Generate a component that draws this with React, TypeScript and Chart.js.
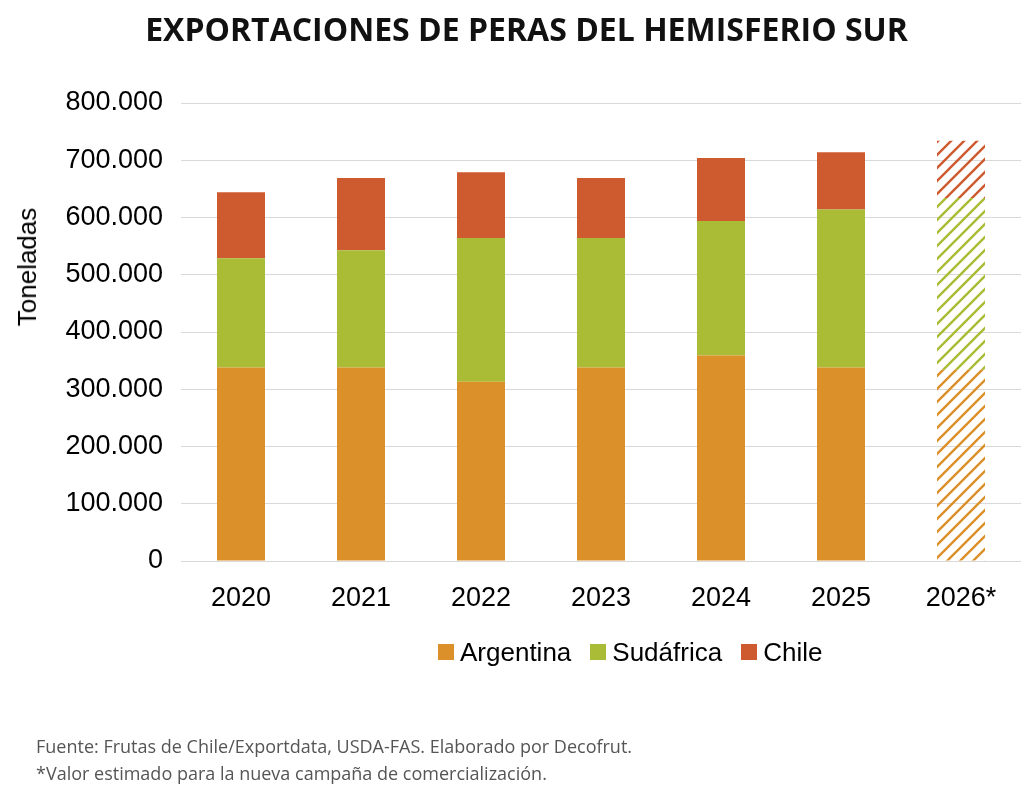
import { useEffect, useRef } from 'react';
import { Chart, registerables } from 'chart.js';

Chart.register(...registerables);

// ─── Data ─────────────────────────────────────────────────────────────────────

const YEARS     = ['2020', '2021', '2022', '2023', '2024', '2025', '2026*'];
const ARGENTINA = [338000, 338000, 313000, 338000, 359000, 338000, 334000];
const SUDAFRICA = [191000, 205000, 251000, 226000, 235000, 276000, 300000];
const CHILE     = [115000, 126000, 115000, 105000, 110000, 100000, 100000];
const ESTIMATED = ['2026*'];

const SERIES = [
  { label: 'Argentina', data: ARGENTINA, color: '#DC902A' },
  { label: 'Sudáfrica', data: SUDAFRICA, color: '#AABC35' },
  { label: 'Chile',     data: CHILE,     color: '#CE5A2F' },
];

const TITLE   = 'EXPORTACIONES DE PERAS DEL HEMISFERIO SUR';
const Y_TITLE = 'Toneladas';
const NOTES = [
  'Fuente: Frutas de Chile/Exportdata, USDA-FAS. Elaborado por Decofrut.',
  '*Valor estimado para la nueva campaña de comercialización.',
];

const ARIAL = '"Liberation Sans", Arial, sans-serif';
const OPEN  = '"Open Sans", "Noto Sans", sans-serif';

// diagonal hatch used for the estimated year
function hatch(color: string): CanvasPattern | string {
  const s = 13;
  const c = document.createElement('canvas');
  c.width = s; c.height = s;
  const ctx = c.getContext('2d');
  if (!ctx) return color;
  ctx.strokeStyle = color;
  ctx.lineWidth = 2.4;
  ctx.lineCap = 'square';
  ctx.beginPath();
  ctx.moveTo(0, s); ctx.lineTo(s, 0);
  ctx.moveTo(-2, 2); ctx.lineTo(2, -2);
  ctx.moveTo(s - 2, s + 2); ctx.lineTo(s + 2, s - 2);
  ctx.stroke();
  return ctx.createPattern(c, 'repeat') ?? color;
}

const fmt = (v: number) => String(v).replace(/\B(?=(\d{3})+(?!\d))/g, '.');

// ─── Chart ────────────────────────────────────────────────────────────────────

function PerasChart() {
  const canvasRef = useRef<HTMLCanvasElement>(null);
  const chartRef  = useRef<Chart | null>(null);

  useEffect(() => {
    if (!canvasRef.current) return;
    const existing = Chart.getChart(canvasRef.current);
    if (existing) existing.destroy();
    chartRef.current?.destroy();

    chartRef.current = new Chart(canvasRef.current, {
      type: 'bar',
      data: {
        labels: YEARS,
        datasets: SERIES.map(s => {
          const pat = hatch(s.color);
          return {
            label: s.label,
            data: s.data,
            backgroundColor: YEARS.map(y => (ESTIMATED.includes(y) ? pat : s.color)),
            borderWidth: 0,
            barPercentage: 0.4,
            categoryPercentage: 1,
          };
        }),
      },
      options: {
        animation: false,
        responsive: true,
        maintainAspectRatio: false,
        layout: { padding: { top: 103, right: 3, bottom: 168, left: 0 } },
        plugins: {
          legend: { display: false },
          tooltip: { enabled: false },
        },
        scales: {
          x: {
            stacked: true,
            grid: { display: false, drawTicks: false },
            border: { display: false },
            ticks: { color: '#000', padding: 21, font: { family: ARIAL, size: 27 } },
            afterFit: (s: any) => { s.height = 60; },
          },
          y: {
            stacked: true,
            min: 0,
            max: 800000,
            grid: { color: '#D9D9D9', lineWidth: 1, drawTicks: false },
            border: { display: false },
            ticks: {
              stepSize: 100000,
              color: '#000',
              padding: 18,
              font: { family: ARIAL, size: 27 },
              callback: (v: any) => fmt(Number(v)),
            },
            afterFit: (s: any) => { s.width = 181; },
          },
        },
      },
    });

    return () => { chartRef.current?.destroy(); chartRef.current = null; };
  }, []);

  return <canvas ref={canvasRef} />;
}

export default function App() {
  return (
    <div style={{ position: 'absolute', left: 0, top: 0, width: 1024, height: 789, background: '#fff', overflow: 'hidden' }}>
      <div style={{ position: 'absolute', inset: 0 }}>
        <PerasChart />
      </div>
      <div style={{
        position: 'absolute', left: 0, width: 1053, top: 9, textAlign: 'center',
        fontFamily: OPEN, fontWeight: 700, fontSize: 32, lineHeight: '40px', color: '#111', whiteSpace: 'nowrap',
      }}>{TITLE}</div>
      <div style={{
        position: 'absolute', left: 27, top: 267, transform: 'translate(-50%, -50%) rotate(-90deg)',
        fontFamily: ARIAL, fontSize: 26, lineHeight: '30px', color: '#000', whiteSpace: 'nowrap',
      }}>{Y_TITLE}</div>
      <div style={{
        position: 'absolute', left: 438, top: 636, display: 'flex', alignItems: 'center',
        fontFamily: ARIAL, fontSize: 26, lineHeight: '32px', color: '#000', whiteSpace: 'nowrap',
      }}>
        {SERIES.map((s, i) => (
          <div key={s.label} style={{ display: 'flex', alignItems: 'center', marginLeft: i ? 19 : 0 }}>
            <span style={{ width: 16, height: 16, background: s.color, marginRight: 6, display: 'inline-block' }} />
            <span>{s.label}</span>
          </div>
        ))}
      </div>
      {NOTES.map((n, i) => (
        <div key={i} style={{
          position: 'absolute', left: 36, top: 733 + i * 27,
          fontFamily: OPEN, fontSize: 18, lineHeight: '26px', color: '#555', whiteSpace: 'nowrap',
        }}>{n}</div>
      ))}
    </div>
  );
}
